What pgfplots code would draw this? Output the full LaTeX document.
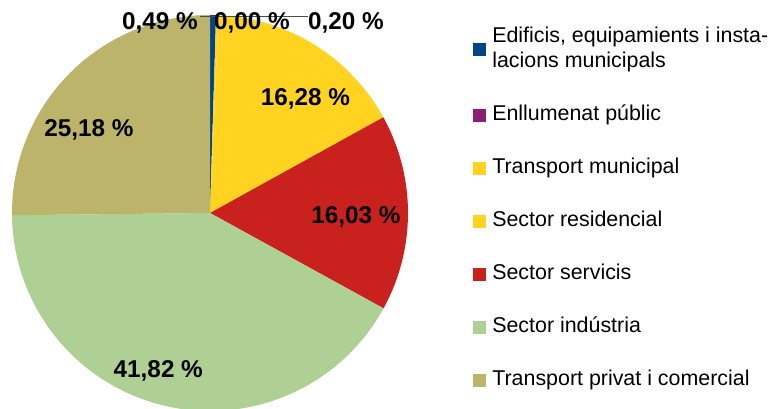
\documentclass[border=0pt]{standalone}
\usepackage{pgfplots}
\pgfplotsset{compat=1.18}
\usepackage{fontspec}
\setmainfont{Liberation Sans}
\definecolor{cEdif}{HTML}{004586}
\definecolor{cEnll}{HTML}{8D1D75}
\definecolor{cTrM}{HTML}{FFD320}
\definecolor{cRes}{HTML}{FFD320}
\definecolor{cServ}{HTML}{C9211E}
\definecolor{cInd}{HTML}{AFD095}
\definecolor{cTrP}{HTML}{BBB46A}
% pie centre (210,196), radius 198 (axis units = pt)
% shares (%): 0.49, 0.00, 0.20, 16.28, 16.03, 41.82, 25.18 ; clockwise from 90 deg
\begin{document}
\begin{tikzpicture}
\begin{axis}[
  scale only axis, width=769pt, height=409pt,
  xmin=0, xmax=769, ymin=0, ymax=409,
  hide axis, clip=true,
  legend style={at={(axis cs:472.7,381.5)}, anchor=north west, draw=none, fill=none,
    inner sep=0pt, outer sep=0pt, font=\fontsize{21.4}{25}\selectfont,
    row sep=33.5pt, column sep=6.6pt,
    nodes={inner sep=0pt, text height=15pt, text depth=4.5pt}},
  legend cell align=left,
  legend image code/.code={\fill[#1] (0pt,-6.5pt) rectangle (13pt,6.5pt);},
]
\addplot[fill=cEdif, draw=none] coordinates {(210,196)} -- ++({90}:198pt) arc[start angle={90}, end angle={90-3.6*0.49}, radius=198pt] -- cycle;
\addlegendentry[text depth=29.5pt]{\vtop{\hbox{Edificis, equipamients i insta-}\hbox{lacions municipals}}}
\addlegendimage{fill=cEnll, draw=none}
\addlegendentry{Enllumenat públic}
\addplot[fill=cTrM, draw=none] coordinates {(210,196)} -- ++({90-3.6*0.49}:198pt) arc[start angle={90-3.6*0.49}, end angle={90-3.6*0.69}, radius=198pt] -- cycle;
\addlegendentry{Transport municipal}
\addplot[fill=cRes, draw=none] coordinates {(210,196)} -- ++({90-3.6*0.69}:198pt) arc[start angle={90-3.6*0.69}, end angle={90-3.6*16.97}, radius=198pt] -- cycle;
\addlegendentry{Sector residencial}
\addplot[fill=cServ, draw=none] coordinates {(210,196)} -- ++({90-3.6*16.97}:198pt) arc[start angle={90-3.6*16.97}, end angle={90-3.6*33.00}, radius=198pt] -- cycle;
\addlegendentry{Sector servicis}
\addplot[fill=cInd, draw=none] coordinates {(210,196)} -- ++({90-3.6*33.00}:198pt) arc[start angle={90-3.6*33.00}, end angle={90-3.6*74.82}, radius=198pt] -- cycle;
\addlegendentry{Sector indústria}
\addplot[fill=cTrP, draw=none] coordinates {(210,196)} -- ++({90-3.6*74.82}:198pt) arc[start angle={90-3.6*74.82}, end angle={90-3.6*100}, radius=198pt] -- cycle;
\addlegendentry{Transport privat i comercial}
% leader line
\addplot[draw=black!70, line width=0.8pt, forget plot] coordinates {(200,393) (308,393)};
\begin{scope}[every node/.style={font=\fontsize{24.3}{28}\selectfont\bfseries, anchor=base, inner sep=0pt}]
\node at (axis cs:160,379.3) {0,49 \%};
\node at (axis cs:252,379.3) {0,00 \%};
\node at (axis cs:346,379.3) {0,20 \%};
\node at (axis cs:305.5,303.6) {16,28 \%};
\node at (axis cs:356,185.3) {16,03 \%};
\node at (axis cs:158.3,31.3) {41,82 \%};
\node at (axis cs:89,272.8) {25,18 \%};
\end{scope}
\coordinate (bl) at (axis cs:0,0);
\coordinate (tr) at (axis cs:769,409);
\end{axis}
\pgfresetboundingbox
\path (bl) rectangle (tr);
\end{tikzpicture}
\end{document}
